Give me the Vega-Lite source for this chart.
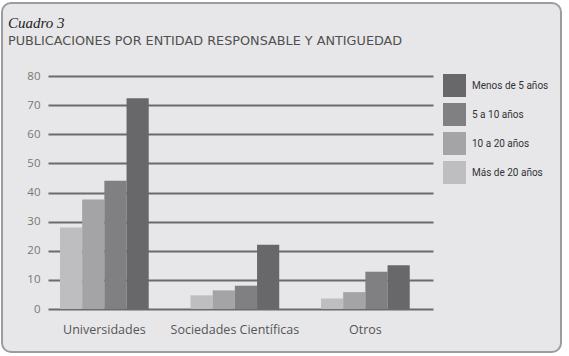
{
  "$schema": "https://vega.github.io/schema/vega-lite/v6.json",
  "width": 559,
  "height": 349,
  "autosize": {"type": "none"},
  "padding": {"left": 2, "top": 3, "right": 8, "bottom": 4},
  "background": "white",
  "config": {
    "view": {"fill": "#e7e7e9", "stroke": "#9c9c9e", "strokeWidth": 2, "cornerRadius": 9},
    "font": "Open Sans"
  },
  "title": {
    "text": "Cuadro 3",
    "subtitle": "PUBLICACIONES POR ENTIDAD RESPONSABLE Y ANTIGUEDAD",
    "anchor": "start",
    "frame": "group",
    "orient": "top",
    "offset": -45,
    "dx": 6,
    "font": "Liberation Serif",
    "fontStyle": "italic",
    "fontWeight": "normal",
    "fontSize": 15,
    "color": "#222222",
    "subtitleFont": "DejaVu Sans",
    "subtitleFontSize": 12.8,
    "subtitleColor": "#505050",
    "subtitlePadding": 4
  },
  "data": {
    "values": [
      {"entidad": "Universidades", "antiguedad": "Más de 20 años", "valor": 28},
      {"entidad": "Universidades", "antiguedad": "10 a 20 años", "valor": 37.6},
      {"entidad": "Universidades", "antiguedad": "5 a 10 años", "valor": 44},
      {"entidad": "Universidades", "antiguedad": "Menos de 5 años", "valor": 72.4},
      {"entidad": "Sociedades Científicas", "antiguedad": "Más de 20 años", "valor": 4.7},
      {"entidad": "Sociedades Científicas", "antiguedad": "10 a 20 años", "valor": 6.4},
      {"entidad": "Sociedades Científicas", "antiguedad": "5 a 10 años", "valor": 8.0},
      {"entidad": "Sociedades Científicas", "antiguedad": "Menos de 5 años", "valor": 22.1},
      {"entidad": "Otros", "antiguedad": "Más de 20 años", "valor": 3.6},
      {"entidad": "Otros", "antiguedad": "10 a 20 años", "valor": 5.8},
      {"entidad": "Otros", "antiguedad": "5 a 10 años", "valor": 12.8},
      {"entidad": "Otros", "antiguedad": "Menos de 5 años", "valor": 15.0}
    ]
  },
  "mark": {"type": "bar"},
  "encoding": {
    "x": {
      "field": "entidad",
      "type": "nominal",
      "sort": ["Universidades", "Sociedades Científicas", "Otros"],
      "scale": {"range": [46, 431], "paddingInner": 0.32, "paddingOuter": 0.135, "align": 0.34},
      "axis": {
        "title": null,
        "orient": "bottom",
        "offset": -43,
        "domain": false,
        "ticks": false,
        "grid": false,
        "labelPadding": 14,
        "labelFontSize": 12.5,
        "labelColor": "#555555",
        "labelAngle": 0
      }
    },
    "xOffset": {
      "field": "antiguedad",
      "type": "nominal",
      "sort": ["Más de 20 años", "10 a 20 años", "5 a 10 años", "Menos de 5 años"],
      "scale": {"paddingInner": 0, "paddingOuter": 0}
    },
    "y": {
      "field": "valor",
      "type": "quantitative",
      "scale": {"domain": [0, 80], "range": [306, 73], "nice": false, "zero": true},
      "axis": {
        "title": null,
        "values": [0, 10, 20, 30, 40, 50, 60, 70, 80],
        "offset": -46,
        "domain": false,
        "ticks": false,
        "labelPadding": 8,
        "labelFontSize": 11.5,
        "labelColor": "#777777",
        "grid": true,
        "gridColor": "#6b6b6b",
        "gridWidth": 2,
        "gridOpacity": 1
      }
    },
    "color": {
      "field": "antiguedad",
      "type": "nominal",
      "scale": {
        "domain": ["Menos de 5 años", "5 a 10 años", "10 a 20 años", "Más de 20 años"],
        "range": ["#68686a", "#808082", "#a4a4a6", "#bebec0"]
      },
      "legend": {
        "orient": "none",
        "legendX": 441,
        "legendY": 71,
        "title": null,
        "symbolType": "square",
        "symbolSize": 529,
        "symbolStrokeWidth": 0,
        "symbolOpacity": 1,
        "labelFont": "Roboto",
        "labelFontSize": 10,
        "labelColor": "#333333",
        "rowPadding": 6,
        "labelOffset": 6,
        "direction": "vertical"
      }
    }
  }
}
